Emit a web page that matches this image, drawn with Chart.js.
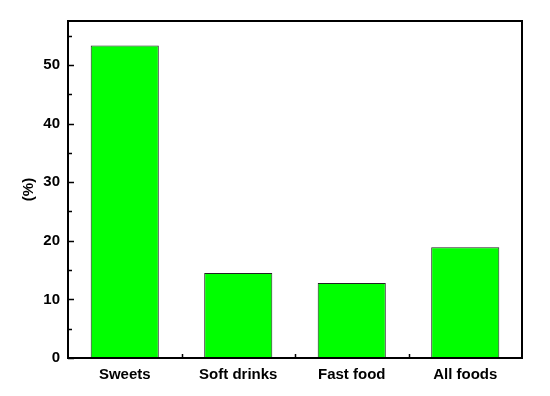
<!DOCTYPE html>
<html lang="en">
<head>
  <meta charset="UTF-8">
  <title>Bar chart</title>
  <script src="https://cdn.jsdelivr.net/npm/chart.js"></script>
  <style>
    html, body { margin: 0; padding: 0; background: #fff; }
    #box { width: 550px; height: 396px; }
  </style>
</head>
<body>
  <div id="box"><canvas id="barra"></canvas></div>
<script>
  // data
  var categorias = ['Sweets', 'Soft drinks', 'Fast food', 'All foods'];
  var valores = [53.3, 14.5, 12.8, 18.9];
  var ticksY = [0, 10, 20, 30, 40, 50];
  var ticksMenores = [5, 15, 25, 35, 45, 55];

  // draws the frame and the inward ticks, like the original plot
  var moldura = {
    id: 'moldura',
    afterDraw: function (chart) {
      var ctx = chart.ctx;
      var a = chart.chartArea;
      var y = chart.scales.y;
      var x = chart.scales.x;
      ctx.save();
      ctx.strokeStyle = '#000';
      ctx.lineWidth = 1.5;
      ctx.beginPath();
      for (var i = 0; i < ticksY.length; i++) {
        var py = Math.round(y.getPixelForValue(ticksY[i])) + 0.5;
        ctx.moveTo(a.left, py); ctx.lineTo(a.left + 6, py);
      }
      for (var j = 0; j < ticksMenores.length; j++) {
        var pm = Math.round(y.getPixelForValue(ticksMenores[j])) + 0.5;
        ctx.moveTo(a.left, pm); ctx.lineTo(a.left + 4, pm);
      }
      for (var k = 1; k < categorias.length; k++) {
        var px = (x.getPixelForValue(k - 1) + x.getPixelForValue(k)) / 2;
        px = Math.round(px) + 0.5;
        ctx.moveTo(px, a.bottom); ctx.lineTo(px, a.bottom - 4);
      }
      ctx.stroke();
      ctx.lineWidth = 2;
      ctx.strokeRect(a.left, a.top, a.right - a.left, a.bottom - a.top);
      ctx.restore();
    }
  };

  var fonte = { family: 'Liberation Sans, Arial, sans-serif', size: 15, weight: 'bold' };

  new Chart(document.getElementById('barra'), {
    type: 'bar',
    data: {
      labels: categorias,
      datasets: [{
        data: valores,
        backgroundColor: '#00ff00',
        borderColor: '#222222',
        borderWidth: 1,
        barPercentage: 0.6,
        categoryPercentage: 1
      }]
    },
    options: {
      responsive: true,
      maintainAspectRatio: false,
      animation: false,
      layout: { padding: { top: 21, right: 28, left: 0, bottom: 0 } },
      plugins: { legend: { display: false }, tooltip: { enabled: false } },
      scales: {
        x: {
          grid: { display: false, drawTicks: false, tickLength: 0 },
          border: { display: false },
          ticks: { color: '#000', font: fonte, padding: 8, maxRotation: 0 },
          afterFit: function (s) { s.height = 38; }
        },
        y: {
          min: 0,
          max: 57.5,
          afterBuildTicks: function (s) {
            s.ticks = ticksY.map(function (v) { return { value: v }; });
          },
          grid: { display: false, drawTicks: false, tickLength: 0 },
          border: { display: false },
          ticks: { color: '#000', font: fonte, padding: 8 },
          title: { display: true, text: '(%)', color: '#000', font: fonte, padding: { top: 20, bottom: 0 } },
          afterFit: function (s) { s.width = 68; }
        }
      }
    },
    plugins: [moldura]
  });
</script>
</body>
</html>
